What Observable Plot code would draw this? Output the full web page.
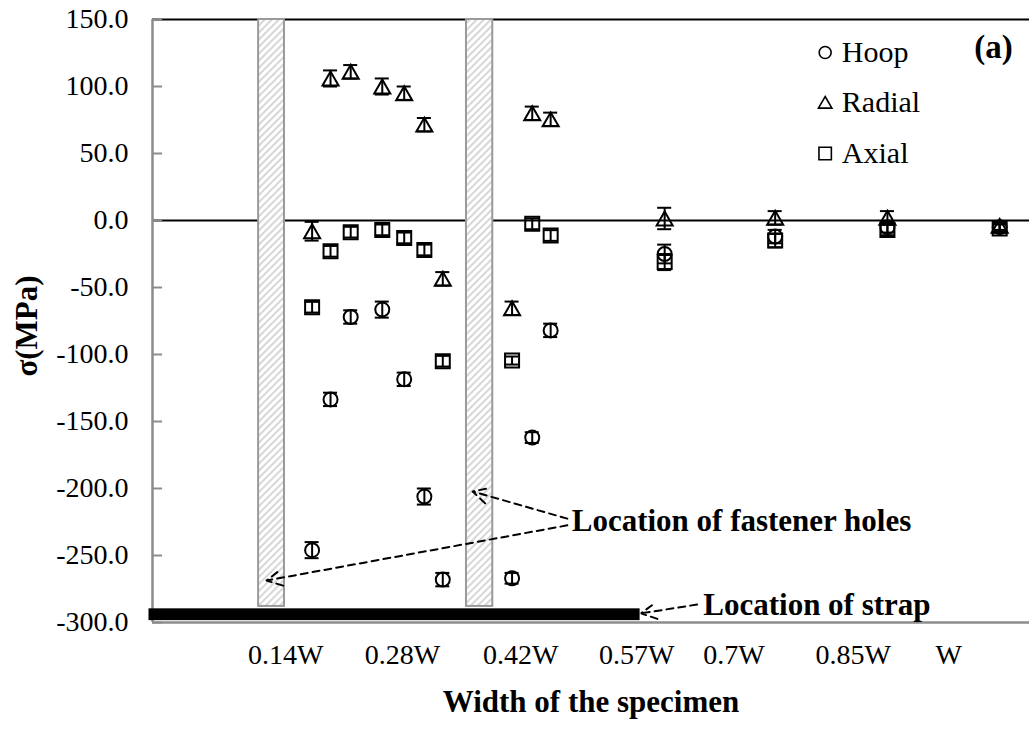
<!DOCTYPE html>
<html><head><meta charset="utf-8">
<script src="https://cdn.jsdelivr.net/npm/d3@7"></script>
<script src="https://cdn.jsdelivr.net/npm/@observablehq/plot@0.6"></script>
<style>body{margin:0;background:#fff;} #chart{position:absolute;left:0;top:0;} #chart svg text{font-family:'Liberation Serif','Times New Roman',serif;}</style>
</head><body><div id="chart"></div>
<script>
// ---- data ----
// x positions across the specimen width (0 = left axis, 100 = right edge of plot)
const positions = [18.2, 20.3, 22.6, 26.2, 28.7, 31.0, 33.1, 41.0, 43.3, 45.4, 58.4, 71.0, 83.8, 96.6];
const hoop   = [-246, -133.5, -72, -66.5, -118.5, -206, -268, -267, -162, -82, -25, -12, -5, -5];
const radial = [-8, 106, 111, 100, 95, 71.5, -43.5, -65.5, 80, 75.5, 1.5, 2, 2, -4];
const axial  = [-64.7, -23, -8.7, -7, -13, -22, -105, -104.5, -2.5, -11.2, -31, -15, -7, -6];
const hoopErr   = [6, 5, 5, 6, 5, 6, 5, 4, 4, 5, 7, 5, 4, 3];
const radialErr = [7, 6, 5, 6, 5, 5, 5, 5, 5, 5, 8, 5, 5, 3];
const axialErr  = [4, 4, 4, 4, 4, 4, 4, 3, 4, 4, 6, 5, 4, 3];

const seriesNames = ["Hoop", "Radial", "Axial"];
const yTicks = [150, 100, 50, 0, -50, -100, -150, -200, -250, -300];
const xTickPos = [15.2, 28.5, 42.0, 55.2, 66.3, 79.9, 90.8];
const xTickLabels = ["0.14W", "0.28W", "0.42W", "0.57W", "0.7W", "0.85W", "W"];

// fastener holes (hatched bands) and strap
const holeStart = [12.1, 35.8];
const holeEnd = [15.05, 38.8];
const holeBottom = -288;
const strapStart = -0.4, strapEnd = 55.6, strapTop = -289.8, strapBottom = -298.6;

// annotation arrows
const arrowX1 = [47.3, 47.3, 62.1];
const arrowY1 = [-222.5, -227.5, -286.6];
const arrowX2 = [36.5, 13.0, 55.7];
const arrowY2 = [-202.2, -268.7, -293.2];
const noteText = ["Location of fastener holes", "Location of strap"];
const noteX = [47.8, 62.8];
const noteY = [-224, -287];

// legend
const legendX = 76.7, legendTextX = 78.6;
const legendY = [125.4, 88.1, 50];

// ---- build tables ----
const rows = [];
positions.forEach((x, i) => {
  rows.push({series: "Hoop", x, y: hoop[i], err: hoopErr[i]});
  rows.push({series: "Radial", x, y: radial[i], err: radialErr[i]});
  rows.push({series: "Axial", x, y: axial[i], err: axialErr[i]});
});
const holes = holeStart.map((s, i) => ({x1: s, x2: holeEnd[i]}));
const arrows = arrowX1.map((x1, i) => ({x1, y1: arrowY1[i], x2: arrowX2[i], y2: arrowY2[i]}));
const notes = noteText.map((t, i) => ({t, x: noteX[i], y: noteY[i]}));
const legend = seriesNames.map((s, i) => ({s, y: legendY[i]}));

const symbolOf = {Hoop: "circle", Radial: "triangle", Axial: "square"};
const rOf = {Hoop: 7, Radial: 5.95, Axial: 7.9};
const dyOf = {Hoop: 0, Radial: 2.3, Axial: 0};
const legendR = {Hoop: 6, Radial: 5, Axial: 7};
const FONT = "'Liberation Serif', 'Times New Roman', serif";
const capHalf = 0.8;

const marks = [
  Plot.ruleY([150], {stroke: "#000", strokeWidth: 2}),
  Plot.ruleY([0], {stroke: "#000", strokeWidth: 2}),
  Plot.rect(holes, {x1: "x1", x2: "x2", y1: holeBottom, y2: 150, fill: "url(#hatch)", stroke: "#9a9a9a", strokeWidth: 2}),
  Plot.ruleX([0], {stroke: "#8c8c8c", strokeWidth: 2.5}),
  Plot.ruleY(yTicks, {x1: 0, x2: 1.15, stroke: "#8c8c8c", strokeWidth: 2}),
  Plot.rect([0], {x1: strapStart, x2: strapEnd, y1: strapTop, y2: strapBottom, fill: "#000"}),
  Plot.ruleY([-300], {stroke: "#8c8c8c", strokeWidth: 2.5}),
  // error bars
  Plot.ruleX(rows, {x: "x", y1: d => d.y - d.err, y2: d => d.y + d.err, stroke: "#000", strokeWidth: 2}),
  Plot.ruleY(rows, {y: d => d.y + d.err, x1: d => d.x - capHalf, x2: d => d.x + capHalf, stroke: "#000", strokeWidth: 2}),
  Plot.ruleY(rows, {y: d => d.y - d.err, x1: d => d.x - capHalf, x2: d => d.x + capHalf, stroke: "#000", strokeWidth: 2}),
  ...seriesNames.map(s => Plot.dot(rows.filter(d => d.series === s), {
    x: "x", y: "y", symbol: symbolOf[s], r: rOf[s], dy: dyOf[s], stroke: "#000", strokeWidth: 2, fill: "none"
  })),
  // legend
  ...seriesNames.map((s, i) => Plot.dot([legend[i]], {
    x: legendX, y: "y", symbol: symbolOf[s], r: legendR[s], dy: dyOf[s] * 0.8, stroke: "#000", strokeWidth: 1.6, fill: "none"
  })),
  Plot.text(legend, {x: legendTextX, y: "y", text: "s", textAnchor: "start", fontSize: 30, fontFamily: FONT, fill: "#000"}),
  Plot.text(["(a)"], {x: 95.9, y: 129, text: d => d, fontSize: 33, fontWeight: "bold", fontFamily: FONT, fill: "#000"}),
  // annotations
  Plot.arrow(arrows, {x1: "x1", y1: "y1", x2: "x2", y2: "y2", stroke: "#000", strokeWidth: 2, strokeDasharray: "7,5", headLength: 13, headAngle: 55}),
  Plot.text(notes, {x: "x", y: "y", text: "t", textAnchor: "start", fontSize: 31, fontWeight: "bold", fontFamily: FONT, fill: "#000"}),
  // axes
  Plot.axisY(yTicks, {tickSize: 0, tickPadding: 24, tickFormat: d => d.toFixed(1), label: null, fontSize: 28, fontFamily: FONT}),
  Plot.axisX(xTickPos, {tickSize: 0, tickPadding: 22, tickFormat: d => xTickLabels[xTickPos.indexOf(d)], label: null, fontSize: 28, fontFamily: FONT}),
  Plot.text(["Width of the specimen"], {frameAnchor: "bottom", dy: 80, textAnchor: "middle", lineAnchor: "middle", text: d => d, fontSize: 31, fontWeight: "bold", fontFamily: FONT, fill: "#000"}),
  Plot.text(["σ(MPa)"], {frameAnchor: "left", dx: -125, dy: 5, rotate: -90, textAnchor: "middle", lineAnchor: "middle", text: d => d, fontSize: 31, fontWeight: "bold", fontFamily: FONT, fill: "#000"})
];

const chart = Plot.plot({
  width: 1029, height: 729,
  marginLeft: 152, marginRight: 0, marginTop: 19, marginBottom: 107,
  x: {domain: [0, 100]},
  y: {domain: [-300, 150]},
  style: {fontFamily: FONT, fontSize: "28px", color: "#000", background: "#fff", overflow: "visible"},
  marks
});

const svg = chart.tagName.toLowerCase() === "svg" ? chart : chart.querySelector("svg");
const ns = "http://www.w3.org/2000/svg";
const defs = document.createElementNS(ns, "defs");
defs.innerHTML = '<pattern id="hatch" patternUnits="userSpaceOnUse" width="5" height="5" patternTransform="rotate(45)">' +
  '<rect width="5" height="5" fill="#fff"/><line x1="1" y1="0" x2="1" y2="5" stroke="#cacaca" stroke-width="1.5"/></pattern>';
svg.insertBefore(defs, svg.firstChild);
document.getElementById("chart").appendChild(chart);
</script>
</body></html>
